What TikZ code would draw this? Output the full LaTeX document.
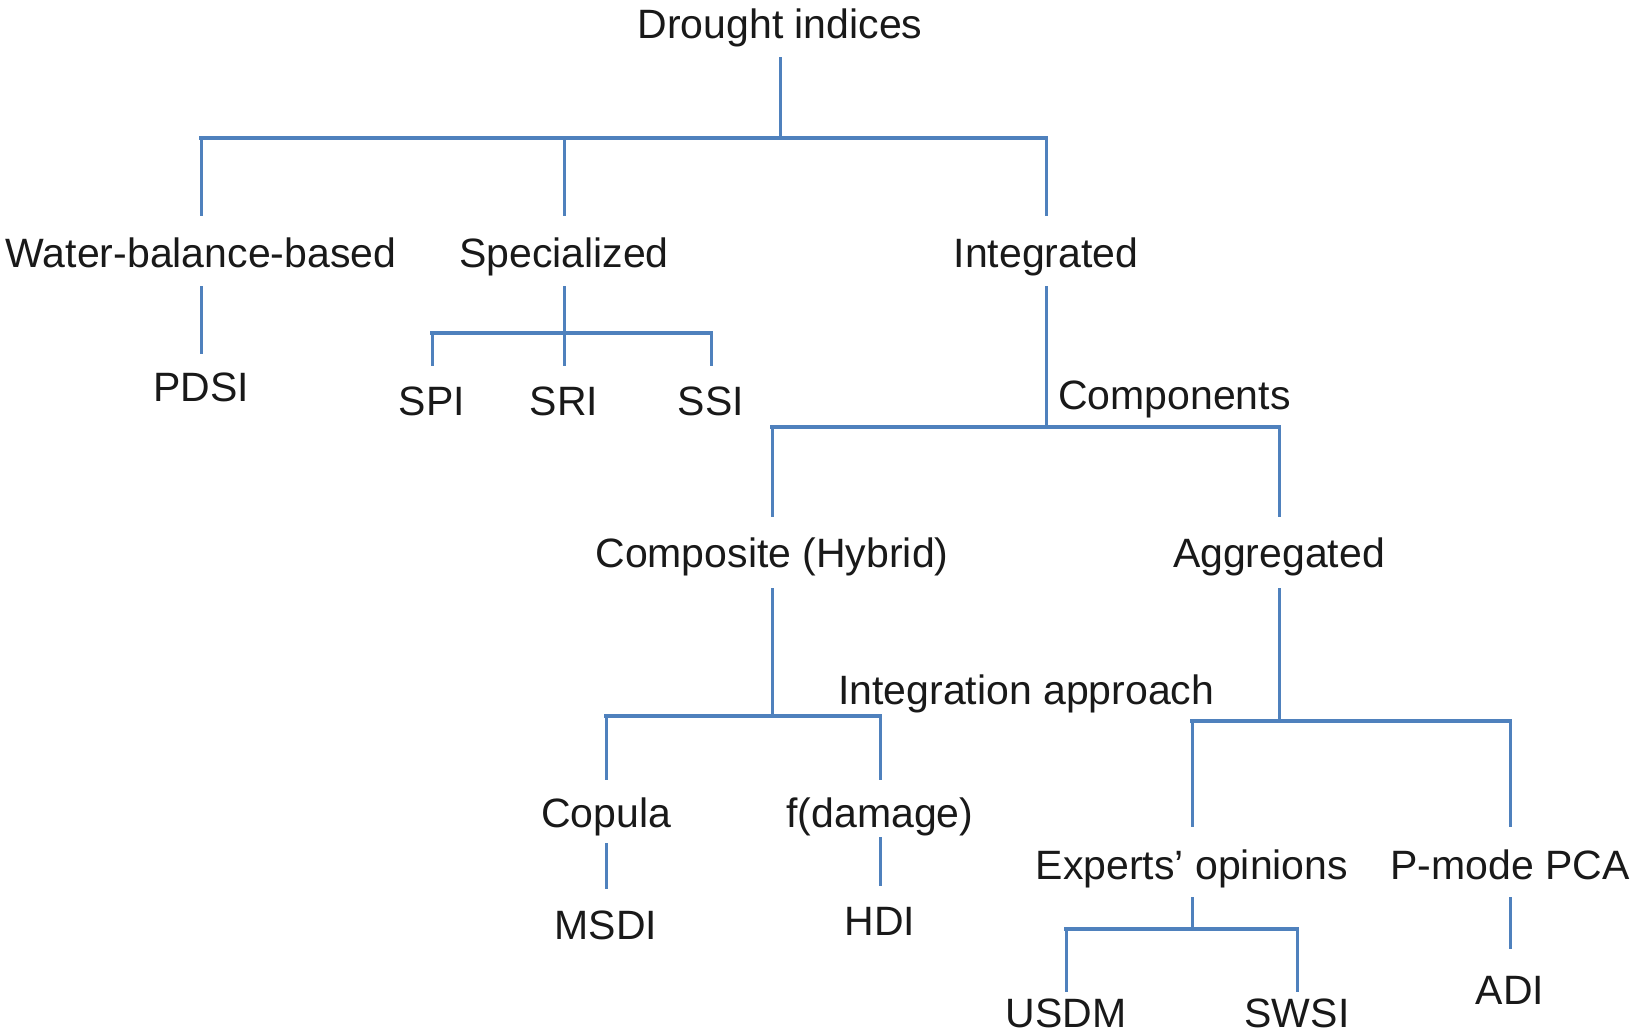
\documentclass[tikz,border=0pt]{standalone}
\usepackage{fontspec}
\setmainfont{Liberation Sans}
\usetikzlibrary{calc}
\definecolor{lineblue}{RGB}{79,129,189}
\definecolor{txtc}{RGB}{25,25,25}
\begin{document}
\begin{tikzpicture}[x=1pt,y=-1pt,
  lbl/.style={anchor=base,inner sep=0pt,font=\fontsize{41}{49}\selectfont,text=txtc},
  lblw/.style={lbl,anchor=base west},
  vl/.style={draw=lineblue,line width=3pt},
  barl/.style={draw=lineblue,line width=4pt,line cap=rect}]
\useasboundingbox[fill=white] (0,0) rectangle (1631,1034);
% nodes
\node[lbl] (root) at (780,38) {Drought indices};
\node[lbl] (wb) at (201,267) {Water-balance-based};
\node[lbl] (spec) at (564,267) {Specialized};
\node[lbl] (int) at (1046,267) {Integrated};
\node[lbl] (pdsi) at (201,401) {PDSI};
\node[lbl] (spi) at (432,415) {SPI};
\node[lbl] (sri) at (564,415) {SRI};
\node[lbl] (ssi) at (711,415) {SSI};
\node[lblw] (compl) at (1058,409) {Components};
\node[lbl] (comp) at (772,567) {Composite (Hybrid)};
\node[lbl] (agg) at (1279,567) {Aggregated};
\node[lblw] (intap) at (838,704) {Integration approach};
\node[lbl] (cop) at (606,827) {Copula};
\node[lbl] (fdam) at (880,827) {f(damage)};
\node[lbl] (msdi) at (606,939) {MSDI};
\node[lbl] (hdi) at (880,935) {HDI};
\node[lbl] (exp) at (1192,879) {Experts’ opinions};
\node[lbl] (pmode) at (1510,879) {P-mode PCA};
\node[lbl] (usdm) at (1066,1027) {USDM};
\node[lbl] (swsi) at (1297,1027) {SWSI};
\node[lbl] (adi) at (1510,1004) {ADI};
% junctions
\coordinate (j0) at (780,138);
\coordinate (j1) at (564,333);
\coordinate (j2) at (1046,427);
\coordinate (j3) at (772,716);
\coordinate (j4) at (1279,721);
\coordinate (j5) at (1192,929);
% root
\draw[vl] ($(root.base)+(0,19)$) -- (j0);
\draw[barl] (wb |- j0) -- (int |- j0);
\draw[vl] (wb |- j0) -- ($(wb.base)+(0,-51)$);
\draw[vl] (spec |- j0) -- ($(spec.base)+(0,-51)$);
\draw[vl] (int |- j0) -- ($(int.base)+(0,-51)$);
% water balance
\draw[vl] ($(wb.base)+(0,19)$) -- ($(pdsi.base)+(0,-47)$);
% specialized
\draw[vl] ($(spec.base)+(0,19)$) -- ($(sri.base)+(0,-49)$);
\draw[barl] (spi |- j1) -- (ssi |- j1);
\draw[vl] (spi |- j1) -- ($(spi.base)+(0,-49)$);
\draw[vl] (ssi |- j1) -- ($(ssi.base)+(0,-49)$);
% integrated
\draw[vl] ($(int.base)+(0,19)$) -- (j2);
\draw[barl] (comp |- j2) -- (agg |- j2);
\draw[vl] (comp |- j2) -- ($(comp.base)+(0,-50)$);
\draw[vl] (agg |- j2) -- ($(agg.base)+(0,-50)$);
% composite
\draw[vl] ($(comp.base)+(0,21)$) -- (j3);
\draw[barl] (cop |- j3) -- (fdam |- j3);
\draw[vl] (cop |- j3) -- ($(cop.base)+(0,-47)$);
\draw[vl] (fdam |- j3) -- ($(fdam.base)+(0,-47)$);
\draw[vl] ($(cop.base)+(0,16)$) -- ($(msdi.base)+(0,-50)$);
\draw[vl] ($(fdam.base)+(0,10)$) -- ($(hdi.base)+(0,-49)$);
% aggregated
\draw[vl] ($(agg.base)+(0,21)$) -- (j4);
\draw[barl] (exp |- j4) -- (pmode |- j4);
\draw[vl] (exp |- j4) -- ($(exp.base)+(0,-52)$);
\draw[vl] (pmode |- j4) -- ($(pmode.base)+(0,-52)$);
% experts
\draw[vl] ($(exp.base)+(0,18)$) -- (j5);
\draw[barl] (usdm |- j5) -- (swsi |- j5);
\draw[vl] (usdm |- j5) -- ($(usdm.base)+(0,-35)$);
\draw[vl] (swsi |- j5) -- ($(swsi.base)+(0,-35)$);
% p-mode
\draw[vl] ($(pmode.base)+(0,18)$) -- ($(adi.base)+(0,-55)$);
\end{tikzpicture}
\end{document}
